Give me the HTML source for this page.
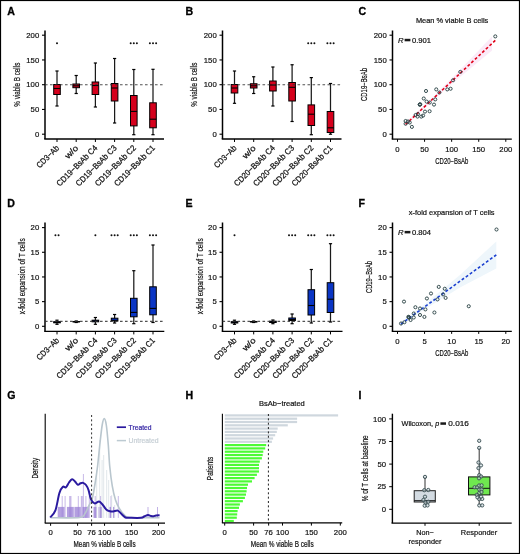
<!DOCTYPE html><html><head><meta charset="utf-8"><style>html,body{margin:0;padding:0;background:#fff;}svg{display:block;will-change:transform;}</style></head><body><svg width="520" height="554" viewBox="0 0 520 554" font-family='"Liberation Sans", sans-serif'>
<rect x="0" y="0" width="520" height="554" fill="#fff"/>
<text x="7.2" y="14.9" font-size="10.6" fill="#000" font-weight="bold" stroke="#000" stroke-width="0.3">A</text>
<text x="185.6" y="14.9" font-size="10.6" fill="#000" font-weight="bold" stroke="#000" stroke-width="0.3">B</text>
<text x="358.4" y="14.9" font-size="10.6" fill="#000" font-weight="bold" stroke="#000" stroke-width="0.3">C</text>
<text x="7.2" y="207.4" font-size="10.6" fill="#000" font-weight="bold" stroke="#000" stroke-width="0.3">D</text>
<text x="185.6" y="207.4" font-size="10.6" fill="#000" font-weight="bold" stroke="#000" stroke-width="0.3">E</text>
<text x="358.4" y="207.4" font-size="10.6" fill="#000" font-weight="bold" stroke="#000" stroke-width="0.3">F</text>
<text x="7.2" y="398.8" font-size="10.6" fill="#000" font-weight="bold" stroke="#000" stroke-width="0.3">G</text>
<text x="185.6" y="398.8" font-size="10.6" fill="#000" font-weight="bold" stroke="#000" stroke-width="0.3">H</text>
<text x="358.4" y="398.8" font-size="10.6" fill="#000" font-weight="bold" stroke="#000" stroke-width="0.3">I</text>
<line x1="45" y1="30.5" x2="45" y2="139" stroke="#000" stroke-width="1.5"/>
<line x1="44.25" y1="139" x2="164" y2="139" stroke="#000" stroke-width="1.3"/>
<line x1="42" y1="134.2" x2="45" y2="134.2" stroke="#000" stroke-width="1.1"/>
<text x="39.2" y="136.89999999999998" font-size="8" fill="#111" text-anchor="end" textLength="4.3" lengthAdjust="spacingAndGlyphs" stroke="#111" stroke-width="0.2">0</text>
<line x1="42" y1="109.44999999999999" x2="45" y2="109.44999999999999" stroke="#000" stroke-width="1.1"/>
<text x="39.2" y="112.14999999999999" font-size="8" fill="#111" text-anchor="end" textLength="8.6" lengthAdjust="spacingAndGlyphs" stroke="#111" stroke-width="0.2">50</text>
<line x1="42" y1="84.69999999999999" x2="45" y2="84.69999999999999" stroke="#000" stroke-width="1.1"/>
<text x="39.2" y="87.39999999999999" font-size="8" fill="#111" text-anchor="end" textLength="12.899999999999999" lengthAdjust="spacingAndGlyphs" stroke="#111" stroke-width="0.2">100</text>
<line x1="42" y1="59.94999999999999" x2="45" y2="59.94999999999999" stroke="#000" stroke-width="1.1"/>
<text x="39.2" y="62.64999999999999" font-size="8" fill="#111" text-anchor="end" textLength="12.899999999999999" lengthAdjust="spacingAndGlyphs" stroke="#111" stroke-width="0.2">150</text>
<line x1="42" y1="35.19999999999999" x2="45" y2="35.19999999999999" stroke="#000" stroke-width="1.1"/>
<text x="39.2" y="37.89999999999999" font-size="8" fill="#111" text-anchor="end" textLength="12.899999999999999" lengthAdjust="spacingAndGlyphs" stroke="#111" stroke-width="0.2">200</text>
<text x="19.7" y="84.7" font-size="8.4" fill="#111" text-anchor="middle" textLength="44" lengthAdjust="spacingAndGlyphs" transform="rotate(-90 19.7 84.7)" stroke="#111" stroke-width="0.2">% viable B cells</text>
<line x1="57" y1="71" x2="57" y2="106" stroke="#1a1a1a" stroke-width="1.25"/>
<line x1="55.4" y1="71" x2="58.6" y2="71" stroke="#000" stroke-width="1.2"/>
<line x1="55.4" y1="106" x2="58.6" y2="106" stroke="#000" stroke-width="1.2"/>
<rect x="53.7" y="84.5" width="6.6" height="10" fill="#d5001c" stroke="#000" stroke-width="1"/>
<line x1="53.7" y1="88.5" x2="60.3" y2="88.5" stroke="#000" stroke-width="1.1"/>
<line x1="57" y1="139" x2="57" y2="142" stroke="#000" stroke-width="1"/>
<text x="59.6" y="148.6" font-size="8.3" fill="#111" text-anchor="end" textLength="28" lengthAdjust="spacingAndGlyphs" transform="rotate(-45 59.6 148.6)" stroke="#111" stroke-width="0.25">CD3−Ab</text>
<line x1="76.2" y1="75.5" x2="76.2" y2="93.5" stroke="#1a1a1a" stroke-width="1.25"/>
<line x1="74.60000000000001" y1="75.5" x2="77.8" y2="75.5" stroke="#000" stroke-width="1.2"/>
<line x1="74.60000000000001" y1="93.5" x2="77.8" y2="93.5" stroke="#000" stroke-width="1.2"/>
<rect x="72.9" y="84.0" width="6.6" height="3.700000000000003" fill="#d5001c" stroke="#000" stroke-width="1"/>
<line x1="72.9" y1="85.8" x2="79.5" y2="85.8" stroke="#000" stroke-width="1.1"/>
<line x1="76.2" y1="139" x2="76.2" y2="142" stroke="#000" stroke-width="1"/>
<text x="78.8" y="148.6" font-size="8.3" fill="#111" text-anchor="end" textLength="15" lengthAdjust="spacingAndGlyphs" transform="rotate(-45 78.8 148.6)" stroke="#111" stroke-width="0.25">w/o</text>
<line x1="95.4" y1="63" x2="95.4" y2="107" stroke="#1a1a1a" stroke-width="1.25"/>
<line x1="93.80000000000001" y1="63" x2="97.0" y2="63" stroke="#000" stroke-width="1.2"/>
<line x1="93.80000000000001" y1="107" x2="97.0" y2="107" stroke="#000" stroke-width="1.2"/>
<rect x="92.10000000000001" y="82.0" width="6.6" height="12.5" fill="#d5001c" stroke="#000" stroke-width="1"/>
<line x1="92.10000000000001" y1="85.5" x2="98.7" y2="85.5" stroke="#000" stroke-width="1.1"/>
<line x1="95.4" y1="139" x2="95.4" y2="142" stroke="#000" stroke-width="1"/>
<text x="98.0" y="148.6" font-size="8.3" fill="#111" text-anchor="end" textLength="54" lengthAdjust="spacingAndGlyphs" transform="rotate(-45 98.0 148.6)" stroke="#111" stroke-width="0.25">CD19−BsAb C4</text>
<line x1="114.6" y1="58.5" x2="114.6" y2="123" stroke="#1a1a1a" stroke-width="1.25"/>
<line x1="113.0" y1="58.5" x2="116.19999999999999" y2="58.5" stroke="#000" stroke-width="1.2"/>
<line x1="113.0" y1="123" x2="116.19999999999999" y2="123" stroke="#000" stroke-width="1.2"/>
<rect x="111.3" y="83.5" width="6.6" height="17.5" fill="#d5001c" stroke="#000" stroke-width="1"/>
<line x1="111.3" y1="88" x2="117.89999999999999" y2="88" stroke="#000" stroke-width="1.1"/>
<line x1="114.6" y1="139" x2="114.6" y2="142" stroke="#000" stroke-width="1"/>
<text x="117.19999999999999" y="148.6" font-size="8.3" fill="#111" text-anchor="end" textLength="54" lengthAdjust="spacingAndGlyphs" transform="rotate(-45 117.19999999999999 148.6)" stroke="#111" stroke-width="0.25">CD19−BsAb C3</text>
<line x1="133.8" y1="69.5" x2="133.8" y2="134.7" stroke="#1a1a1a" stroke-width="1.25"/>
<line x1="132.20000000000002" y1="69.5" x2="135.4" y2="69.5" stroke="#000" stroke-width="1.2"/>
<line x1="132.20000000000002" y1="134.7" x2="135.4" y2="134.7" stroke="#000" stroke-width="1.2"/>
<rect x="130.5" y="95.5" width="6.6" height="30.400000000000006" fill="#d5001c" stroke="#000" stroke-width="1"/>
<line x1="130.5" y1="111.4" x2="137.10000000000002" y2="111.4" stroke="#000" stroke-width="1.1"/>
<line x1="133.8" y1="139" x2="133.8" y2="142" stroke="#000" stroke-width="1"/>
<text x="136.4" y="148.6" font-size="8.3" fill="#111" text-anchor="end" textLength="54" lengthAdjust="spacingAndGlyphs" transform="rotate(-45 136.4 148.6)" stroke="#111" stroke-width="0.25">CD19−BsAb C2</text>
<line x1="153" y1="69.3" x2="153" y2="134.7" stroke="#1a1a1a" stroke-width="1.25"/>
<line x1="151.4" y1="69.3" x2="154.6" y2="69.3" stroke="#000" stroke-width="1.2"/>
<line x1="151.4" y1="134.7" x2="154.6" y2="134.7" stroke="#000" stroke-width="1.2"/>
<rect x="149.7" y="102.8" width="6.6" height="25.000000000000014" fill="#d5001c" stroke="#000" stroke-width="1"/>
<line x1="149.7" y1="119.2" x2="156.3" y2="119.2" stroke="#000" stroke-width="1.1"/>
<line x1="153" y1="139" x2="153" y2="142" stroke="#000" stroke-width="1"/>
<text x="155.6" y="148.6" font-size="8.3" fill="#111" text-anchor="end" textLength="54" lengthAdjust="spacingAndGlyphs" transform="rotate(-45 155.6 148.6)" stroke="#111" stroke-width="0.25">CD19−BsAb C1</text>
<line x1="45" y1="84.7" x2="164" y2="84.7" stroke="#333" stroke-width="1.1" stroke-dasharray="2.6,2.4" opacity="0.85"/>
<circle cx="57.0" cy="43.2" r="1.0" fill="#111"/>
<circle cx="130.70000000000002" cy="43.2" r="1.0" fill="#111"/>
<circle cx="133.8" cy="43.2" r="1.0" fill="#111"/>
<circle cx="136.9" cy="43.2" r="1.0" fill="#111"/>
<circle cx="149.9" cy="43.2" r="1.0" fill="#111"/>
<circle cx="153.0" cy="43.2" r="1.0" fill="#111"/>
<circle cx="156.1" cy="43.2" r="1.0" fill="#111"/>
<line x1="222.5" y1="30.5" x2="222.5" y2="139" stroke="#000" stroke-width="1.5"/>
<line x1="221.75" y1="139" x2="341.5" y2="139" stroke="#000" stroke-width="1.3"/>
<line x1="219.5" y1="134.2" x2="222.5" y2="134.2" stroke="#000" stroke-width="1.1"/>
<text x="216.7" y="136.89999999999998" font-size="8" fill="#111" text-anchor="end" textLength="4.3" lengthAdjust="spacingAndGlyphs" stroke="#111" stroke-width="0.2">0</text>
<line x1="219.5" y1="109.44999999999999" x2="222.5" y2="109.44999999999999" stroke="#000" stroke-width="1.1"/>
<text x="216.7" y="112.14999999999999" font-size="8" fill="#111" text-anchor="end" textLength="8.6" lengthAdjust="spacingAndGlyphs" stroke="#111" stroke-width="0.2">50</text>
<line x1="219.5" y1="84.69999999999999" x2="222.5" y2="84.69999999999999" stroke="#000" stroke-width="1.1"/>
<text x="216.7" y="87.39999999999999" font-size="8" fill="#111" text-anchor="end" textLength="12.899999999999999" lengthAdjust="spacingAndGlyphs" stroke="#111" stroke-width="0.2">100</text>
<line x1="219.5" y1="59.94999999999999" x2="222.5" y2="59.94999999999999" stroke="#000" stroke-width="1.1"/>
<text x="216.7" y="62.64999999999999" font-size="8" fill="#111" text-anchor="end" textLength="12.899999999999999" lengthAdjust="spacingAndGlyphs" stroke="#111" stroke-width="0.2">150</text>
<line x1="219.5" y1="35.19999999999999" x2="222.5" y2="35.19999999999999" stroke="#000" stroke-width="1.1"/>
<text x="216.7" y="37.89999999999999" font-size="8" fill="#111" text-anchor="end" textLength="12.899999999999999" lengthAdjust="spacingAndGlyphs" stroke="#111" stroke-width="0.2">200</text>
<text x="197.2" y="84.7" font-size="8.4" fill="#111" text-anchor="middle" textLength="44" lengthAdjust="spacingAndGlyphs" transform="rotate(-90 197.2 84.7)" stroke="#111" stroke-width="0.2">% viable B cells</text>
<line x1="234.5" y1="71" x2="234.5" y2="103.3" stroke="#1a1a1a" stroke-width="1.25"/>
<line x1="232.9" y1="71" x2="236.1" y2="71" stroke="#000" stroke-width="1.2"/>
<line x1="232.9" y1="103.3" x2="236.1" y2="103.3" stroke="#000" stroke-width="1.2"/>
<rect x="231.2" y="84.5" width="6.6" height="8.5" fill="#d5001c" stroke="#000" stroke-width="1"/>
<line x1="231.2" y1="88" x2="237.8" y2="88" stroke="#000" stroke-width="1.1"/>
<line x1="234.5" y1="139" x2="234.5" y2="142" stroke="#000" stroke-width="1"/>
<text x="237.1" y="148.6" font-size="8.3" fill="#111" text-anchor="end" textLength="28" lengthAdjust="spacingAndGlyphs" transform="rotate(-45 237.1 148.6)" stroke="#111" stroke-width="0.25">CD3−Ab</text>
<line x1="253.7" y1="76.75" x2="253.7" y2="93.5" stroke="#1a1a1a" stroke-width="1.25"/>
<line x1="252.1" y1="76.75" x2="255.29999999999998" y2="76.75" stroke="#000" stroke-width="1.2"/>
<line x1="252.1" y1="93.5" x2="255.29999999999998" y2="93.5" stroke="#000" stroke-width="1.2"/>
<rect x="250.39999999999998" y="83.75" width="6.6" height="4.25" fill="#d5001c" stroke="#000" stroke-width="1"/>
<line x1="250.39999999999998" y1="85.8" x2="257.0" y2="85.8" stroke="#000" stroke-width="1.1"/>
<line x1="253.7" y1="139" x2="253.7" y2="142" stroke="#000" stroke-width="1"/>
<text x="256.3" y="148.6" font-size="8.3" fill="#111" text-anchor="end" textLength="15" lengthAdjust="spacingAndGlyphs" transform="rotate(-45 256.3 148.6)" stroke="#111" stroke-width="0.25">w/o</text>
<line x1="272.9" y1="67" x2="272.9" y2="106" stroke="#1a1a1a" stroke-width="1.25"/>
<line x1="271.29999999999995" y1="67" x2="274.5" y2="67" stroke="#000" stroke-width="1.2"/>
<line x1="271.29999999999995" y1="106" x2="274.5" y2="106" stroke="#000" stroke-width="1.2"/>
<rect x="269.59999999999997" y="81.0" width="6.6" height="10.0" fill="#d5001c" stroke="#000" stroke-width="1"/>
<line x1="269.59999999999997" y1="85" x2="276.2" y2="85" stroke="#000" stroke-width="1.1"/>
<line x1="272.9" y1="139" x2="272.9" y2="142" stroke="#000" stroke-width="1"/>
<text x="275.5" y="148.6" font-size="8.3" fill="#111" text-anchor="end" textLength="54" lengthAdjust="spacingAndGlyphs" transform="rotate(-45 275.5 148.6)" stroke="#111" stroke-width="0.25">CD20−BsAb C4</text>
<line x1="292.1" y1="64.75" x2="292.1" y2="121.5" stroke="#1a1a1a" stroke-width="1.25"/>
<line x1="290.5" y1="64.75" x2="293.70000000000005" y2="64.75" stroke="#000" stroke-width="1.2"/>
<line x1="290.5" y1="121.5" x2="293.70000000000005" y2="121.5" stroke="#000" stroke-width="1.2"/>
<rect x="288.8" y="82.5" width="6.6" height="18.5" fill="#d5001c" stroke="#000" stroke-width="1"/>
<line x1="288.8" y1="87.3" x2="295.40000000000003" y2="87.3" stroke="#000" stroke-width="1.1"/>
<line x1="292.1" y1="139" x2="292.1" y2="142" stroke="#000" stroke-width="1"/>
<text x="294.70000000000005" y="148.6" font-size="8.3" fill="#111" text-anchor="end" textLength="54" lengthAdjust="spacingAndGlyphs" transform="rotate(-45 294.70000000000005 148.6)" stroke="#111" stroke-width="0.25">CD20−BsAb C3</text>
<line x1="311.3" y1="77.6" x2="311.3" y2="134.7" stroke="#1a1a1a" stroke-width="1.25"/>
<line x1="309.7" y1="77.6" x2="312.90000000000003" y2="77.6" stroke="#000" stroke-width="1.2"/>
<line x1="309.7" y1="134.7" x2="312.90000000000003" y2="134.7" stroke="#000" stroke-width="1.2"/>
<rect x="308.0" y="104.9" width="6.6" height="20.599999999999994" fill="#d5001c" stroke="#000" stroke-width="1"/>
<line x1="308.0" y1="114.2" x2="314.6" y2="114.2" stroke="#000" stroke-width="1.1"/>
<line x1="311.3" y1="139" x2="311.3" y2="142" stroke="#000" stroke-width="1"/>
<text x="313.90000000000003" y="148.6" font-size="8.3" fill="#111" text-anchor="end" textLength="54" lengthAdjust="spacingAndGlyphs" transform="rotate(-45 313.90000000000003 148.6)" stroke="#111" stroke-width="0.25">CD20−BsAb C2</text>
<line x1="330.5" y1="83.5" x2="330.5" y2="134.2" stroke="#1a1a1a" stroke-width="1.25"/>
<line x1="328.9" y1="83.5" x2="332.1" y2="83.5" stroke="#000" stroke-width="1.2"/>
<line x1="328.9" y1="134.2" x2="332.1" y2="134.2" stroke="#000" stroke-width="1.2"/>
<rect x="327.2" y="111.5" width="6.6" height="21" fill="#d5001c" stroke="#000" stroke-width="1"/>
<line x1="327.2" y1="127.8" x2="333.8" y2="127.8" stroke="#000" stroke-width="1.1"/>
<line x1="330.5" y1="139" x2="330.5" y2="142" stroke="#000" stroke-width="1"/>
<text x="333.1" y="148.6" font-size="8.3" fill="#111" text-anchor="end" textLength="54" lengthAdjust="spacingAndGlyphs" transform="rotate(-45 333.1 148.6)" stroke="#111" stroke-width="0.25">CD20−BsAb C1</text>
<line x1="222.5" y1="84.7" x2="341.5" y2="84.7" stroke="#333" stroke-width="1.1" stroke-dasharray="2.6,2.4" opacity="0.85"/>
<circle cx="308.2" cy="43.2" r="1.0" fill="#111"/>
<circle cx="311.3" cy="43.2" r="1.0" fill="#111"/>
<circle cx="314.40000000000003" cy="43.2" r="1.0" fill="#111"/>
<circle cx="327.4" cy="43.2" r="1.0" fill="#111"/>
<circle cx="330.5" cy="43.2" r="1.0" fill="#111"/>
<circle cx="333.6" cy="43.2" r="1.0" fill="#111"/>
<line x1="45" y1="222.5" x2="45" y2="331.4" stroke="#000" stroke-width="1.5"/>
<line x1="44.25" y1="331.4" x2="164.3" y2="331.4" stroke="#000" stroke-width="1.3"/>
<line x1="42" y1="326.3" x2="45" y2="326.3" stroke="#000" stroke-width="1.1"/>
<text x="39.2" y="329.0" font-size="8" fill="#111" text-anchor="end" textLength="4.3" lengthAdjust="spacingAndGlyphs" stroke="#111" stroke-width="0.2">0</text>
<line x1="42" y1="301.625" x2="45" y2="301.625" stroke="#000" stroke-width="1.1"/>
<text x="39.2" y="304.325" font-size="8" fill="#111" text-anchor="end" textLength="4.3" lengthAdjust="spacingAndGlyphs" stroke="#111" stroke-width="0.2">5</text>
<line x1="42" y1="276.95000000000005" x2="45" y2="276.95000000000005" stroke="#000" stroke-width="1.1"/>
<text x="39.2" y="279.65000000000003" font-size="8" fill="#111" text-anchor="end" textLength="8.6" lengthAdjust="spacingAndGlyphs" stroke="#111" stroke-width="0.2">10</text>
<line x1="42" y1="252.27500000000003" x2="45" y2="252.27500000000003" stroke="#000" stroke-width="1.1"/>
<text x="39.2" y="254.97500000000002" font-size="8" fill="#111" text-anchor="end" textLength="8.6" lengthAdjust="spacingAndGlyphs" stroke="#111" stroke-width="0.2">15</text>
<line x1="42" y1="227.60000000000002" x2="45" y2="227.60000000000002" stroke="#000" stroke-width="1.1"/>
<text x="39.2" y="230.3" font-size="8" fill="#111" text-anchor="end" textLength="8.6" lengthAdjust="spacingAndGlyphs" stroke="#111" stroke-width="0.2">20</text>
<text x="25.2" y="276.3" font-size="8.4" fill="#111" text-anchor="middle" textLength="76" lengthAdjust="spacingAndGlyphs" transform="rotate(-90 25.2 276.3)" stroke="#111" stroke-width="0.2">x-fold expansion of T cells</text>
<line x1="57" y1="320.2" x2="57" y2="324.3" stroke="#1a1a1a" stroke-width="1.25"/>
<line x1="55.4" y1="320.2" x2="58.6" y2="320.2" stroke="#000" stroke-width="1.2"/>
<line x1="55.4" y1="324.3" x2="58.6" y2="324.3" stroke="#000" stroke-width="1.2"/>
<rect x="53.7" y="321.7" width="6.6" height="1.1000000000000227" fill="#0a35c4" stroke="#000" stroke-width="1"/>
<line x1="53.7" y1="322.3" x2="60.3" y2="322.3" stroke="#000" stroke-width="1.1"/>
<line x1="57" y1="331.4" x2="57" y2="334.4" stroke="#000" stroke-width="1"/>
<text x="59.6" y="341.0" font-size="8.3" fill="#111" text-anchor="end" textLength="28" lengthAdjust="spacingAndGlyphs" transform="rotate(-45 59.6 341.0)" stroke="#111" stroke-width="0.25">CD3−Ab</text>
<line x1="76.2" y1="321" x2="76.2" y2="322.5" stroke="#1a1a1a" stroke-width="1.25"/>
<line x1="74.60000000000001" y1="321" x2="77.8" y2="321" stroke="#000" stroke-width="1.2"/>
<line x1="74.60000000000001" y1="322.5" x2="77.8" y2="322.5" stroke="#000" stroke-width="1.2"/>
<rect x="72.9" y="321.5" width="6.6" height="0.39999999999997726" fill="#0a35c4" stroke="#000" stroke-width="1"/>
<line x1="72.9" y1="321.7" x2="79.5" y2="321.7" stroke="#000" stroke-width="1.1"/>
<line x1="76.2" y1="331.4" x2="76.2" y2="334.4" stroke="#000" stroke-width="1"/>
<text x="78.8" y="341.0" font-size="8.3" fill="#111" text-anchor="end" textLength="15" lengthAdjust="spacingAndGlyphs" transform="rotate(-45 78.8 341.0)" stroke="#111" stroke-width="0.25">w/o</text>
<line x1="95.4" y1="317.5" x2="95.4" y2="324.3" stroke="#1a1a1a" stroke-width="1.25"/>
<line x1="93.80000000000001" y1="317.5" x2="97.0" y2="317.5" stroke="#000" stroke-width="1.2"/>
<line x1="93.80000000000001" y1="324.3" x2="97.0" y2="324.3" stroke="#000" stroke-width="1.2"/>
<rect x="92.10000000000001" y="320.2" width="6.6" height="1.6000000000000227" fill="#0a35c4" stroke="#000" stroke-width="1"/>
<line x1="92.10000000000001" y1="321" x2="98.7" y2="321" stroke="#000" stroke-width="1.1"/>
<line x1="95.4" y1="331.4" x2="95.4" y2="334.4" stroke="#000" stroke-width="1"/>
<text x="98.0" y="341.0" font-size="8.3" fill="#111" text-anchor="end" textLength="54" lengthAdjust="spacingAndGlyphs" transform="rotate(-45 98.0 341.0)" stroke="#111" stroke-width="0.25">CD19−BsAb C4</text>
<line x1="114.6" y1="314.5" x2="114.6" y2="323" stroke="#1a1a1a" stroke-width="1.25"/>
<line x1="113.0" y1="314.5" x2="116.19999999999999" y2="314.5" stroke="#000" stroke-width="1.2"/>
<line x1="113.0" y1="323" x2="116.19999999999999" y2="323" stroke="#000" stroke-width="1.2"/>
<rect x="111.3" y="318.2" width="6.6" height="2.8000000000000114" fill="#0a35c4" stroke="#000" stroke-width="1"/>
<line x1="111.3" y1="320.3" x2="117.89999999999999" y2="320.3" stroke="#000" stroke-width="1.1"/>
<line x1="114.6" y1="331.4" x2="114.6" y2="334.4" stroke="#000" stroke-width="1"/>
<text x="117.19999999999999" y="341.0" font-size="8.3" fill="#111" text-anchor="end" textLength="54" lengthAdjust="spacingAndGlyphs" transform="rotate(-45 117.19999999999999 341.0)" stroke="#111" stroke-width="0.25">CD19−BsAb C3</text>
<line x1="133.8" y1="270.7" x2="133.8" y2="323.7" stroke="#1a1a1a" stroke-width="1.25"/>
<line x1="132.20000000000002" y1="270.7" x2="135.4" y2="270.7" stroke="#000" stroke-width="1.2"/>
<line x1="132.20000000000002" y1="323.7" x2="135.4" y2="323.7" stroke="#000" stroke-width="1.2"/>
<rect x="130.5" y="298.3" width="6.6" height="18.5" fill="#0a35c4" stroke="#000" stroke-width="1"/>
<line x1="130.5" y1="312.4" x2="137.10000000000002" y2="312.4" stroke="#000" stroke-width="1.1"/>
<line x1="133.8" y1="331.4" x2="133.8" y2="334.4" stroke="#000" stroke-width="1"/>
<text x="136.4" y="341.0" font-size="8.3" fill="#111" text-anchor="end" textLength="54" lengthAdjust="spacingAndGlyphs" transform="rotate(-45 136.4 341.0)" stroke="#111" stroke-width="0.25">CD19−BsAb C2</text>
<line x1="153" y1="245" x2="153" y2="322.5" stroke="#1a1a1a" stroke-width="1.25"/>
<line x1="151.4" y1="245" x2="154.6" y2="245" stroke="#000" stroke-width="1.2"/>
<line x1="151.4" y1="322.5" x2="154.6" y2="322.5" stroke="#000" stroke-width="1.2"/>
<rect x="149.7" y="286.8" width="6.6" height="28.0" fill="#0a35c4" stroke="#000" stroke-width="1"/>
<line x1="149.7" y1="308.4" x2="156.3" y2="308.4" stroke="#000" stroke-width="1.1"/>
<line x1="153" y1="331.4" x2="153" y2="334.4" stroke="#000" stroke-width="1"/>
<text x="155.6" y="341.0" font-size="8.3" fill="#111" text-anchor="end" textLength="54" lengthAdjust="spacingAndGlyphs" transform="rotate(-45 155.6 341.0)" stroke="#111" stroke-width="0.25">CD19−BsAb C1</text>
<line x1="45" y1="321.4" x2="164.3" y2="321.4" stroke="#333" stroke-width="1.1" stroke-dasharray="2.6,2.4" opacity="0.85"/>
<circle cx="55.45" cy="235.2" r="1.0" fill="#111"/>
<circle cx="58.55" cy="235.2" r="1.0" fill="#111"/>
<circle cx="95.4" cy="235.2" r="1.0" fill="#111"/>
<circle cx="111.5" cy="235.2" r="1.0" fill="#111"/>
<circle cx="114.6" cy="235.2" r="1.0" fill="#111"/>
<circle cx="117.69999999999999" cy="235.2" r="1.0" fill="#111"/>
<circle cx="130.70000000000002" cy="235.2" r="1.0" fill="#111"/>
<circle cx="133.8" cy="235.2" r="1.0" fill="#111"/>
<circle cx="136.9" cy="235.2" r="1.0" fill="#111"/>
<circle cx="149.9" cy="235.2" r="1.0" fill="#111"/>
<circle cx="153.0" cy="235.2" r="1.0" fill="#111"/>
<circle cx="156.1" cy="235.2" r="1.0" fill="#111"/>
<line x1="222.5" y1="222.5" x2="222.5" y2="331.4" stroke="#000" stroke-width="1.5"/>
<line x1="221.75" y1="331.4" x2="342.5" y2="331.4" stroke="#000" stroke-width="1.3"/>
<line x1="219.5" y1="326.3" x2="222.5" y2="326.3" stroke="#000" stroke-width="1.1"/>
<text x="216.7" y="329.0" font-size="8" fill="#111" text-anchor="end" textLength="4.3" lengthAdjust="spacingAndGlyphs" stroke="#111" stroke-width="0.2">0</text>
<line x1="219.5" y1="301.625" x2="222.5" y2="301.625" stroke="#000" stroke-width="1.1"/>
<text x="216.7" y="304.325" font-size="8" fill="#111" text-anchor="end" textLength="4.3" lengthAdjust="spacingAndGlyphs" stroke="#111" stroke-width="0.2">5</text>
<line x1="219.5" y1="276.95000000000005" x2="222.5" y2="276.95000000000005" stroke="#000" stroke-width="1.1"/>
<text x="216.7" y="279.65000000000003" font-size="8" fill="#111" text-anchor="end" textLength="8.6" lengthAdjust="spacingAndGlyphs" stroke="#111" stroke-width="0.2">10</text>
<line x1="219.5" y1="252.27500000000003" x2="222.5" y2="252.27500000000003" stroke="#000" stroke-width="1.1"/>
<text x="216.7" y="254.97500000000002" font-size="8" fill="#111" text-anchor="end" textLength="8.6" lengthAdjust="spacingAndGlyphs" stroke="#111" stroke-width="0.2">15</text>
<line x1="219.5" y1="227.60000000000002" x2="222.5" y2="227.60000000000002" stroke="#000" stroke-width="1.1"/>
<text x="216.7" y="230.3" font-size="8" fill="#111" text-anchor="end" textLength="8.6" lengthAdjust="spacingAndGlyphs" stroke="#111" stroke-width="0.2">20</text>
<text x="202.7" y="276.3" font-size="8.4" fill="#111" text-anchor="middle" textLength="76" lengthAdjust="spacingAndGlyphs" transform="rotate(-90 202.7 276.3)" stroke="#111" stroke-width="0.2">x-fold expansion of T cells</text>
<line x1="234.5" y1="320.2" x2="234.5" y2="324.3" stroke="#1a1a1a" stroke-width="1.25"/>
<line x1="232.9" y1="320.2" x2="236.1" y2="320.2" stroke="#000" stroke-width="1.2"/>
<line x1="232.9" y1="324.3" x2="236.1" y2="324.3" stroke="#000" stroke-width="1.2"/>
<rect x="231.2" y="321.7" width="6.6" height="1.3000000000000114" fill="#0a35c4" stroke="#000" stroke-width="1"/>
<line x1="231.2" y1="322.3" x2="237.8" y2="322.3" stroke="#000" stroke-width="1.1"/>
<line x1="234.5" y1="331.4" x2="234.5" y2="334.4" stroke="#000" stroke-width="1"/>
<text x="237.1" y="341.0" font-size="8.3" fill="#111" text-anchor="end" textLength="28" lengthAdjust="spacingAndGlyphs" transform="rotate(-45 237.1 341.0)" stroke="#111" stroke-width="0.25">CD3−Ab</text>
<line x1="253.7" y1="321" x2="253.7" y2="322.5" stroke="#1a1a1a" stroke-width="1.25"/>
<line x1="252.1" y1="321" x2="255.29999999999998" y2="321" stroke="#000" stroke-width="1.2"/>
<line x1="252.1" y1="322.5" x2="255.29999999999998" y2="322.5" stroke="#000" stroke-width="1.2"/>
<rect x="250.39999999999998" y="321.5" width="6.6" height="0.5" fill="#0a35c4" stroke="#000" stroke-width="1"/>
<line x1="250.39999999999998" y1="321.7" x2="257.0" y2="321.7" stroke="#000" stroke-width="1.1"/>
<line x1="253.7" y1="331.4" x2="253.7" y2="334.4" stroke="#000" stroke-width="1"/>
<text x="256.3" y="341.0" font-size="8.3" fill="#111" text-anchor="end" textLength="15" lengthAdjust="spacingAndGlyphs" transform="rotate(-45 256.3 341.0)" stroke="#111" stroke-width="0.25">w/o</text>
<line x1="272.9" y1="320" x2="272.9" y2="323.7" stroke="#1a1a1a" stroke-width="1.25"/>
<line x1="271.29999999999995" y1="320" x2="274.5" y2="320" stroke="#000" stroke-width="1.2"/>
<line x1="271.29999999999995" y1="323.7" x2="274.5" y2="323.7" stroke="#000" stroke-width="1.2"/>
<rect x="269.59999999999997" y="321.2" width="6.6" height="1.3000000000000114" fill="#0a35c4" stroke="#000" stroke-width="1"/>
<line x1="269.59999999999997" y1="321.8" x2="276.2" y2="321.8" stroke="#000" stroke-width="1.1"/>
<line x1="272.9" y1="331.4" x2="272.9" y2="334.4" stroke="#000" stroke-width="1"/>
<text x="275.5" y="341.0" font-size="8.3" fill="#111" text-anchor="end" textLength="54" lengthAdjust="spacingAndGlyphs" transform="rotate(-45 275.5 341.0)" stroke="#111" stroke-width="0.25">CD20−BsAb C4</text>
<line x1="292.1" y1="314" x2="292.1" y2="323.7" stroke="#1a1a1a" stroke-width="1.25"/>
<line x1="290.5" y1="314" x2="293.70000000000005" y2="314" stroke="#000" stroke-width="1.2"/>
<line x1="290.5" y1="323.7" x2="293.70000000000005" y2="323.7" stroke="#000" stroke-width="1.2"/>
<rect x="288.8" y="318.0" width="6.6" height="2.5" fill="#0a35c4" stroke="#000" stroke-width="1"/>
<line x1="288.8" y1="319.5" x2="295.40000000000003" y2="319.5" stroke="#000" stroke-width="1.1"/>
<line x1="292.1" y1="331.4" x2="292.1" y2="334.4" stroke="#000" stroke-width="1"/>
<text x="294.70000000000005" y="341.0" font-size="8.3" fill="#111" text-anchor="end" textLength="54" lengthAdjust="spacingAndGlyphs" transform="rotate(-45 294.70000000000005 341.0)" stroke="#111" stroke-width="0.25">CD20−BsAb C3</text>
<line x1="311.3" y1="269.5" x2="311.3" y2="323" stroke="#1a1a1a" stroke-width="1.25"/>
<line x1="309.7" y1="269.5" x2="312.90000000000003" y2="269.5" stroke="#000" stroke-width="1.2"/>
<line x1="309.7" y1="323" x2="312.90000000000003" y2="323" stroke="#000" stroke-width="1.2"/>
<rect x="308.0" y="289.7" width="6.6" height="25.30000000000001" fill="#0a35c4" stroke="#000" stroke-width="1"/>
<line x1="308.0" y1="305.5" x2="314.6" y2="305.5" stroke="#000" stroke-width="1.1"/>
<line x1="311.3" y1="331.4" x2="311.3" y2="334.4" stroke="#000" stroke-width="1"/>
<text x="313.90000000000003" y="341.0" font-size="8.3" fill="#111" text-anchor="end" textLength="54" lengthAdjust="spacingAndGlyphs" transform="rotate(-45 313.90000000000003 341.0)" stroke="#111" stroke-width="0.25">CD20−BsAb C2</text>
<line x1="330.5" y1="243.7" x2="330.5" y2="322" stroke="#1a1a1a" stroke-width="1.25"/>
<line x1="328.9" y1="243.7" x2="332.1" y2="243.7" stroke="#000" stroke-width="1.2"/>
<line x1="328.9" y1="322" x2="332.1" y2="322" stroke="#000" stroke-width="1.2"/>
<rect x="327.2" y="282.7" width="6.6" height="29.80000000000001" fill="#0a35c4" stroke="#000" stroke-width="1"/>
<line x1="327.2" y1="299.2" x2="333.8" y2="299.2" stroke="#000" stroke-width="1.1"/>
<line x1="330.5" y1="331.4" x2="330.5" y2="334.4" stroke="#000" stroke-width="1"/>
<text x="333.1" y="341.0" font-size="8.3" fill="#111" text-anchor="end" textLength="54" lengthAdjust="spacingAndGlyphs" transform="rotate(-45 333.1 341.0)" stroke="#111" stroke-width="0.25">CD20−BsAb C1</text>
<line x1="222.5" y1="321.4" x2="342.5" y2="321.4" stroke="#333" stroke-width="1.1" stroke-dasharray="2.6,2.4" opacity="0.85"/>
<circle cx="234.5" cy="235.2" r="1.0" fill="#111"/>
<circle cx="289.0" cy="235.2" r="1.0" fill="#111"/>
<circle cx="292.1" cy="235.2" r="1.0" fill="#111"/>
<circle cx="295.20000000000005" cy="235.2" r="1.0" fill="#111"/>
<circle cx="308.2" cy="235.2" r="1.0" fill="#111"/>
<circle cx="311.3" cy="235.2" r="1.0" fill="#111"/>
<circle cx="314.40000000000003" cy="235.2" r="1.0" fill="#111"/>
<circle cx="327.4" cy="235.2" r="1.0" fill="#111"/>
<circle cx="330.5" cy="235.2" r="1.0" fill="#111"/>
<circle cx="333.6" cy="235.2" r="1.0" fill="#111"/>
<path d="M405.6,122.6 L430,100 L460,69.9 L492,36.4 L492,50.6 L460,76.9 L430,103 L405.6,126.2 Z" fill="#fbeaf8"/>
<line x1="405.6" y1="124.4" x2="495.9" y2="39.8" stroke="#e00018" stroke-width="1.6" stroke-dasharray="2.9,2.1"/>
<circle cx="426" cy="91" r="1.55" fill="none" stroke="#2c4547" stroke-width="0.95"/>
<circle cx="436.25" cy="89.4" r="1.55" fill="none" stroke="#2c4547" stroke-width="0.95"/>
<circle cx="439.4" cy="92.5" r="1.55" fill="none" stroke="#2c4547" stroke-width="0.95"/>
<circle cx="447.25" cy="89.4" r="1.55" fill="none" stroke="#2c4547" stroke-width="0.95"/>
<circle cx="450.6" cy="88.75" r="1.55" fill="none" stroke="#2c4547" stroke-width="0.95"/>
<circle cx="453.1" cy="80.25" r="1.55" fill="none" stroke="#2c4547" stroke-width="0.95"/>
<circle cx="423.75" cy="98.5" r="1.55" fill="none" stroke="#2c4547" stroke-width="0.95"/>
<circle cx="426.6" cy="101.6" r="1.55" fill="none" stroke="#2c4547" stroke-width="0.95"/>
<circle cx="429.75" cy="102.5" r="1.55" fill="none" stroke="#2c4547" stroke-width="0.95"/>
<circle cx="435.25" cy="99.4" r="1.55" fill="none" stroke="#2c4547" stroke-width="0.95"/>
<circle cx="434" cy="104.6" r="1.55" fill="none" stroke="#2c4547" stroke-width="0.95"/>
<circle cx="419.75" cy="104.6" r="1.55" fill="none" stroke="#2c4547" stroke-width="0.95"/>
<circle cx="419.75" cy="104.6" r="1.55" fill="none" stroke="#2c4547" stroke-width="0.95"/>
<circle cx="420.3" cy="104.3" r="1.55" fill="none" stroke="#2c4547" stroke-width="0.95"/>
<circle cx="425" cy="111.6" r="1.55" fill="none" stroke="#2c4547" stroke-width="0.95"/>
<circle cx="429.6" cy="111.25" r="1.55" fill="none" stroke="#2c4547" stroke-width="0.95"/>
<circle cx="415.6" cy="115" r="1.55" fill="none" stroke="#2c4547" stroke-width="0.95"/>
<circle cx="417.9" cy="114.1" r="1.55" fill="none" stroke="#2c4547" stroke-width="0.95"/>
<circle cx="417.5" cy="116.6" r="1.55" fill="none" stroke="#2c4547" stroke-width="0.95"/>
<circle cx="421.25" cy="116.6" r="1.55" fill="none" stroke="#2c4547" stroke-width="0.95"/>
<circle cx="423.1" cy="115.6" r="1.55" fill="none" stroke="#2c4547" stroke-width="0.95"/>
<circle cx="405.6" cy="121" r="1.55" fill="none" stroke="#2c4547" stroke-width="0.95"/>
<circle cx="405.6" cy="123.75" r="1.55" fill="none" stroke="#2c4547" stroke-width="0.95"/>
<circle cx="409.75" cy="122.5" r="1.55" fill="none" stroke="#2c4547" stroke-width="0.95"/>
<circle cx="411.9" cy="126.9" r="1.55" fill="none" stroke="#2c4547" stroke-width="0.95"/>
<circle cx="408" cy="121.5" r="1.55" fill="none" stroke="#2c4547" stroke-width="0.95"/>
<circle cx="460.3" cy="71.9" r="1.55" fill="none" stroke="#2c4547" stroke-width="0.95"/>
<circle cx="495.3" cy="36.4" r="1.55" fill="none" stroke="#2c4547" stroke-width="0.95"/>
<line x1="392.5" y1="30.5" x2="392.5" y2="139.2" stroke="#000" stroke-width="1.5"/>
<line x1="391.75" y1="139.2" x2="511.8" y2="139.2" stroke="#000" stroke-width="1.3"/>
<line x1="389.5" y1="134.2" x2="392.5" y2="134.2" stroke="#000" stroke-width="1.1"/>
<text x="386.7" y="136.89999999999998" font-size="8" fill="#111" text-anchor="end" textLength="4.3" lengthAdjust="spacingAndGlyphs" stroke="#111" stroke-width="0.2">0</text>
<line x1="389.5" y1="109.44999999999999" x2="392.5" y2="109.44999999999999" stroke="#000" stroke-width="1.1"/>
<text x="386.7" y="112.14999999999999" font-size="8" fill="#111" text-anchor="end" textLength="8.6" lengthAdjust="spacingAndGlyphs" stroke="#111" stroke-width="0.2">50</text>
<line x1="389.5" y1="84.69999999999999" x2="392.5" y2="84.69999999999999" stroke="#000" stroke-width="1.1"/>
<text x="386.7" y="87.39999999999999" font-size="8" fill="#111" text-anchor="end" textLength="12.899999999999999" lengthAdjust="spacingAndGlyphs" stroke="#111" stroke-width="0.2">100</text>
<line x1="389.5" y1="59.94999999999999" x2="392.5" y2="59.94999999999999" stroke="#000" stroke-width="1.1"/>
<text x="386.7" y="62.64999999999999" font-size="8" fill="#111" text-anchor="end" textLength="12.899999999999999" lengthAdjust="spacingAndGlyphs" stroke="#111" stroke-width="0.2">150</text>
<line x1="389.5" y1="35.19999999999999" x2="392.5" y2="35.19999999999999" stroke="#000" stroke-width="1.1"/>
<text x="386.7" y="37.89999999999999" font-size="8" fill="#111" text-anchor="end" textLength="12.899999999999999" lengthAdjust="spacingAndGlyphs" stroke="#111" stroke-width="0.2">200</text>
<line x1="397.5" y1="139.2" x2="397.5" y2="141.79999999999998" stroke="#000" stroke-width="1"/>
<text x="397.5" y="151.6" font-size="8" fill="#111" text-anchor="middle" textLength="4.3" lengthAdjust="spacingAndGlyphs" stroke="#111" stroke-width="0.2">0</text>
<line x1="424.575" y1="139.2" x2="424.575" y2="141.79999999999998" stroke="#000" stroke-width="1"/>
<text x="424.575" y="151.6" font-size="8" fill="#111" text-anchor="middle" textLength="8.6" lengthAdjust="spacingAndGlyphs" stroke="#111" stroke-width="0.2">50</text>
<line x1="451.65" y1="139.2" x2="451.65" y2="141.79999999999998" stroke="#000" stroke-width="1"/>
<text x="451.65" y="151.6" font-size="8" fill="#111" text-anchor="middle" textLength="12.899999999999999" lengthAdjust="spacingAndGlyphs" stroke="#111" stroke-width="0.2">100</text>
<line x1="478.725" y1="139.2" x2="478.725" y2="141.79999999999998" stroke="#000" stroke-width="1"/>
<text x="478.725" y="151.6" font-size="8" fill="#111" text-anchor="middle" textLength="12.899999999999999" lengthAdjust="spacingAndGlyphs" stroke="#111" stroke-width="0.2">150</text>
<line x1="505.8" y1="139.2" x2="505.8" y2="141.79999999999998" stroke="#000" stroke-width="1"/>
<text x="505.8" y="151.6" font-size="8" fill="#111" text-anchor="middle" textLength="12.899999999999999" lengthAdjust="spacingAndGlyphs" stroke="#111" stroke-width="0.2">200</text>
<text x="452.1" y="23.1" font-size="7.4" fill="#111" text-anchor="middle" textLength="72.4" lengthAdjust="spacingAndGlyphs" stroke="#111" stroke-width="0.2">Mean % viable B cells</text>
<text x="398.0" y="42.5" font-size="7.8" fill="#111" textLength="5.6" lengthAdjust="spacingAndGlyphs" font-style="italic" stroke="#111" stroke-width="0.2">R</text>
<rect x="404.6" y="38.80" width="5.8" height="2.5" fill="#1a1a1a"/>
<text x="412" y="42.5" font-size="7.8" fill="#111" textLength="19" lengthAdjust="spacingAndGlyphs" stroke="#111" stroke-width="0.2">0.901</text>
<text x="366.9" y="84.5" font-size="8.4" fill="#111" text-anchor="middle" textLength="33" lengthAdjust="spacingAndGlyphs" transform="rotate(-90 366.9 84.5)" stroke="#111" stroke-width="0.2">CD19−BsAb</text>
<text x="451.8" y="163.6" font-size="8.2" fill="#111" text-anchor="middle" textLength="33" lengthAdjust="spacingAndGlyphs" stroke="#111" stroke-width="0.2">CD20−BsAb</text>
<path d="M401,321.8 L424,304.8 L460,275 L496.3,241.4 L496.3,268.4 L460,287.4 L424,309.8 L401,326.2 Z" fill="#eef6fb"/>
<line x1="401" y1="324" x2="496.3" y2="254.9" stroke="#1a3fd0" stroke-width="1.6" stroke-dasharray="2.9,2.1"/>
<circle cx="438.75" cy="286.9" r="1.55" fill="none" stroke="#2c4547" stroke-width="0.95"/>
<circle cx="444.75" cy="288.75" r="1.55" fill="none" stroke="#2c4547" stroke-width="0.95"/>
<circle cx="431" cy="293.5" r="1.55" fill="none" stroke="#2c4547" stroke-width="0.95"/>
<circle cx="443.1" cy="294.4" r="1.55" fill="none" stroke="#2c4547" stroke-width="0.95"/>
<circle cx="445.6" cy="297.9" r="1.55" fill="none" stroke="#2c4547" stroke-width="0.95"/>
<circle cx="437.5" cy="299.4" r="1.55" fill="none" stroke="#2c4547" stroke-width="0.95"/>
<circle cx="426.9" cy="298.5" r="1.55" fill="none" stroke="#2c4547" stroke-width="0.95"/>
<circle cx="404" cy="301.6" r="1.55" fill="none" stroke="#2c4547" stroke-width="0.95"/>
<circle cx="415.4" cy="307.25" r="1.55" fill="none" stroke="#2c4547" stroke-width="0.95"/>
<circle cx="420" cy="308.5" r="1.55" fill="none" stroke="#2c4547" stroke-width="0.95"/>
<circle cx="425.4" cy="309.4" r="1.55" fill="none" stroke="#2c4547" stroke-width="0.95"/>
<circle cx="434.4" cy="312.5" r="1.55" fill="none" stroke="#2c4547" stroke-width="0.95"/>
<circle cx="413.75" cy="313.5" r="1.55" fill="none" stroke="#2c4547" stroke-width="0.95"/>
<circle cx="420" cy="315" r="1.55" fill="none" stroke="#2c4547" stroke-width="0.95"/>
<circle cx="424.4" cy="316.9" r="1.55" fill="none" stroke="#2c4547" stroke-width="0.95"/>
<circle cx="408.75" cy="317.25" r="1.55" fill="none" stroke="#2c4547" stroke-width="0.95"/>
<circle cx="409.2" cy="317.6" r="1.55" fill="none" stroke="#2c4547" stroke-width="0.95"/>
<circle cx="408.4" cy="316.8" r="1.55" fill="none" stroke="#2c4547" stroke-width="0.95"/>
<circle cx="413.75" cy="317.5" r="1.55" fill="none" stroke="#2c4547" stroke-width="0.95"/>
<circle cx="410.6" cy="320" r="1.55" fill="none" stroke="#2c4547" stroke-width="0.95"/>
<circle cx="404.4" cy="322.25" r="1.55" fill="none" stroke="#2c4547" stroke-width="0.95"/>
<circle cx="401" cy="323.5" r="1.55" fill="none" stroke="#2c4547" stroke-width="0.95"/>
<circle cx="468.75" cy="306.25" r="1.55" fill="none" stroke="#2c4547" stroke-width="0.95"/>
<circle cx="496.5" cy="229.5" r="1.55" fill="none" stroke="#2c4547" stroke-width="0.95"/>
<line x1="392.5" y1="222.5" x2="392.5" y2="331.3" stroke="#000" stroke-width="1.5"/>
<line x1="391.75" y1="331.3" x2="511.8" y2="331.3" stroke="#000" stroke-width="1.3"/>
<line x1="389.5" y1="326.3" x2="392.5" y2="326.3" stroke="#000" stroke-width="1.1"/>
<text x="386.7" y="329.0" font-size="8" fill="#111" text-anchor="end" textLength="4.3" lengthAdjust="spacingAndGlyphs" stroke="#111" stroke-width="0.2">0</text>
<line x1="389.5" y1="301.625" x2="392.5" y2="301.625" stroke="#000" stroke-width="1.1"/>
<text x="386.7" y="304.325" font-size="8" fill="#111" text-anchor="end" textLength="4.3" lengthAdjust="spacingAndGlyphs" stroke="#111" stroke-width="0.2">5</text>
<line x1="389.5" y1="276.95000000000005" x2="392.5" y2="276.95000000000005" stroke="#000" stroke-width="1.1"/>
<text x="386.7" y="279.65000000000003" font-size="8" fill="#111" text-anchor="end" textLength="8.6" lengthAdjust="spacingAndGlyphs" stroke="#111" stroke-width="0.2">10</text>
<line x1="389.5" y1="252.27500000000003" x2="392.5" y2="252.27500000000003" stroke="#000" stroke-width="1.1"/>
<text x="386.7" y="254.97500000000002" font-size="8" fill="#111" text-anchor="end" textLength="8.6" lengthAdjust="spacingAndGlyphs" stroke="#111" stroke-width="0.2">15</text>
<line x1="389.5" y1="227.60000000000002" x2="392.5" y2="227.60000000000002" stroke="#000" stroke-width="1.1"/>
<text x="386.7" y="230.3" font-size="8" fill="#111" text-anchor="end" textLength="8.6" lengthAdjust="spacingAndGlyphs" stroke="#111" stroke-width="0.2">20</text>
<line x1="397.5" y1="331.3" x2="397.5" y2="333.90000000000003" stroke="#000" stroke-width="1"/>
<text x="397.5" y="343.7" font-size="8" fill="#111" text-anchor="middle" textLength="4.3" lengthAdjust="spacingAndGlyphs" stroke="#111" stroke-width="0.2">0</text>
<line x1="424.575" y1="331.3" x2="424.575" y2="333.90000000000003" stroke="#000" stroke-width="1"/>
<text x="424.575" y="343.7" font-size="8" fill="#111" text-anchor="middle" textLength="4.3" lengthAdjust="spacingAndGlyphs" stroke="#111" stroke-width="0.2">5</text>
<line x1="451.65" y1="331.3" x2="451.65" y2="333.90000000000003" stroke="#000" stroke-width="1"/>
<text x="451.65" y="343.7" font-size="8" fill="#111" text-anchor="middle" textLength="8.6" lengthAdjust="spacingAndGlyphs" stroke="#111" stroke-width="0.2">10</text>
<line x1="478.725" y1="331.3" x2="478.725" y2="333.90000000000003" stroke="#000" stroke-width="1"/>
<text x="478.725" y="343.7" font-size="8" fill="#111" text-anchor="middle" textLength="8.6" lengthAdjust="spacingAndGlyphs" stroke="#111" stroke-width="0.2">15</text>
<line x1="505.8" y1="331.3" x2="505.8" y2="333.90000000000003" stroke="#000" stroke-width="1"/>
<text x="505.8" y="343.7" font-size="8" fill="#111" text-anchor="middle" textLength="8.6" lengthAdjust="spacingAndGlyphs" stroke="#111" stroke-width="0.2">20</text>
<text x="451.7" y="214.6" font-size="7.4" fill="#111" text-anchor="middle" textLength="85.8" lengthAdjust="spacingAndGlyphs" stroke="#111" stroke-width="0.2">x-fold expansion of T cells</text>
<text x="398.0" y="234.6" font-size="7.8" fill="#111" textLength="5.6" lengthAdjust="spacingAndGlyphs" font-style="italic" stroke="#111" stroke-width="0.2">R</text>
<rect x="404.6" y="230.90" width="5.8" height="2.5" fill="#1a1a1a"/>
<text x="412" y="234.6" font-size="7.8" fill="#111" textLength="19" lengthAdjust="spacingAndGlyphs" stroke="#111" stroke-width="0.2">0.804</text>
<text x="371.5" y="277" font-size="8.4" fill="#111" text-anchor="middle" textLength="32" lengthAdjust="spacingAndGlyphs" transform="rotate(-90 371.5 277)" stroke="#111" stroke-width="0.2">CD19−BsAb</text>
<text x="451.8" y="355.7" font-size="8.2" fill="#111" text-anchor="middle" textLength="33" lengthAdjust="spacingAndGlyphs" stroke="#111" stroke-width="0.2">CD20−BsAb</text>
<rect x="57.7" y="506.9" width="6.8999999999999915" height="11" fill="#9a7fd6" opacity="0.75"/>
<rect x="66.9" y="506.9" width="6.8999999999999915" height="11" fill="#9a7fd6" opacity="0.75"/>
<rect x="74.4" y="506.9" width="6.3999999999999915" height="11" fill="#9a7fd6" opacity="0.75"/>
<rect x="82.5" y="506.9" width="6.299999999999997" height="11" fill="#9a7fd6" opacity="0.75"/>
<rect x="93.5" y="506.9" width="3.5" height="11" fill="#9a7fd6" opacity="0.75"/>
<rect x="98.5" y="506.9" width="3.5" height="11" fill="#9a7fd6" opacity="0.75"/>
<rect x="109.5" y="506.9" width="1.5" height="11" fill="#9a7fd6" opacity="0.75"/>
<rect x="113" y="506.9" width="1.5" height="11" fill="#9a7fd6" opacity="0.75"/>
<rect x="61.7" y="496" width="1" height="21.9" fill="#9a7fd6" opacity="0.55"/>
<rect x="64.6" y="496" width="1" height="21.9" fill="#9a7fd6" opacity="0.55"/>
<rect x="69.14999999999999" y="496" width="2.3" height="21.9" fill="#9a7fd6" opacity="0.55"/>
<rect x="77.8" y="496" width="1" height="21.9" fill="#9a7fd6" opacity="0.55"/>
<rect x="80.85" y="496" width="1.9" height="21.9" fill="#9a7fd6" opacity="0.55"/>
<rect x="85.4" y="496" width="1" height="21.9" fill="#9a7fd6" opacity="0.55"/>
<rect x="88.8" y="496" width="1" height="21.9" fill="#9a7fd6" opacity="0.55"/>
<rect x="94.7" y="496" width="1" height="21.9" fill="#9a7fd6" opacity="0.55"/>
<rect x="100.1" y="496" width="1" height="21.9" fill="#9a7fd6" opacity="0.55"/>
<rect x="110.5" y="496" width="1" height="21.9" fill="#9a7fd6" opacity="0.55"/>
<rect x="117.8" y="496" width="1" height="21.9" fill="#9a7fd6" opacity="0.55"/>
<rect x="82.9" y="474" width="1" height="44" fill="#9a7fd6" opacity="0.55"/>
<rect x="147.5" y="507" width="1" height="11" fill="#9a7fd6" opacity="0.6"/>
<rect x="157.0" y="507" width="1" height="11" fill="#9a7fd6" opacity="0.6"/>
<rect x="96" y="470" width="1.2" height="47.89999999999998" fill="#d5dde3" opacity="0.6"/>
<rect x="99" y="440" width="1.2" height="77.89999999999998" fill="#d5dde3" opacity="0.6"/>
<rect x="101.5" y="460" width="1.2" height="57.89999999999998" fill="#d5dde3" opacity="0.6"/>
<rect x="103" y="455" width="1.2" height="62.89999999999998" fill="#d5dde3" opacity="0.6"/>
<rect x="106" y="470" width="1.2" height="47.89999999999998" fill="#d5dde3" opacity="0.6"/>
<rect x="108" y="480" width="1.2" height="37.89999999999998" fill="#d5dde3" opacity="0.6"/>
<rect x="111" y="495" width="1.2" height="22.899999999999977" fill="#d5dde3" opacity="0.6"/>
<rect x="114" y="505" width="1.2" height="12.899999999999977" fill="#d5dde3" opacity="0.6"/>
<path d="M50.60,517.70 C55.43,517.67 73.87,518.20 79.60,517.50 C85.33,516.80 83.47,515.45 85.00,513.50 C86.53,511.55 87.58,508.30 88.80,505.80 C90.02,503.30 91.27,502.13 92.30,498.50 C93.33,494.87 94.12,489.42 95.00,484.00 C95.88,478.58 96.77,472.83 97.60,466.00 C98.43,459.17 99.23,449.83 100.00,443.00 C100.77,436.17 101.50,429.07 102.20,425.00 C102.90,420.93 103.52,418.60 104.20,418.60 C104.88,418.60 105.62,420.60 106.30,425.00 C106.98,429.40 107.73,438.17 108.30,445.00 C108.87,451.83 109.03,459.13 109.70,466.00 C110.37,472.87 111.33,480.53 112.30,486.20 C113.27,491.87 114.33,496.30 115.50,500.00 C116.67,503.70 117.88,505.98 119.30,508.40 C120.72,510.82 122.22,512.98 124.00,514.50 C125.78,516.02 124.08,516.97 130.00,517.50 C135.92,518.03 154.58,517.67 159.50,517.70" fill="none" stroke="#b9c6ce" stroke-width="1.6"/>
<path d="M50.20,517.50 C51.07,516.32 53.87,514.48 55.40,510.40 C56.93,506.32 58.15,496.95 59.40,493.00 C60.65,489.05 61.83,487.62 62.90,486.70 C63.97,485.78 64.78,488.20 65.80,487.50 C66.82,486.80 67.95,483.88 69.00,482.50 C70.05,481.12 71.10,479.37 72.10,479.20 C73.10,479.03 74.03,480.57 75.00,481.50 C75.97,482.43 76.98,484.50 77.90,484.80 C78.82,485.10 79.63,483.62 80.50,483.30 C81.37,482.98 82.18,482.62 83.10,482.90 C84.02,483.18 85.10,483.82 86.00,485.00 C86.90,486.18 87.67,487.62 88.50,490.00 C89.33,492.38 89.98,497.07 91.00,499.30 C92.02,501.53 93.25,503.05 94.60,503.40 C95.95,503.75 97.78,501.22 99.10,501.40 C100.42,501.58 101.32,503.17 102.50,504.50 C103.68,505.83 104.95,508.27 106.20,509.40 C107.45,510.53 108.82,510.95 110.00,511.30 C111.18,511.65 112.00,511.62 113.30,511.50 C114.60,511.38 116.43,510.18 117.80,510.60 C119.17,511.02 120.23,512.85 121.50,514.00 C122.77,515.15 123.98,516.87 125.40,517.50 C126.82,518.13 127.40,517.75 130.00,517.80 C132.60,517.85 138.58,518.05 141.00,517.80 C143.42,517.55 143.33,516.77 144.50,516.30 C145.67,515.83 146.92,515.05 148.00,515.00 C149.08,514.95 150.08,515.78 151.00,516.00 C151.92,516.22 152.67,516.40 153.50,516.30 C154.33,516.20 154.98,515.58 156.00,515.40 C157.02,515.22 159.00,515.23 159.60,515.20" fill="none" stroke="#2a1a9f" stroke-width="2.0" stroke-linejoin="round"/>
<line x1="91.6" y1="415" x2="91.6" y2="523" stroke="#333" stroke-width="1" stroke-dasharray="2,2.35"/>
<line x1="45.2" y1="413.7" x2="45.2" y2="523.1" stroke="#000" stroke-width="1.1"/>
<line x1="44.7" y1="523.1" x2="165" y2="523.1" stroke="#000" stroke-width="1.1"/>
<line x1="50.6" y1="523.1" x2="50.6" y2="525.8" stroke="#000" stroke-width="1"/>
<text x="50.6" y="534.9" font-size="8" fill="#111" text-anchor="middle" textLength="4.3" lengthAdjust="spacingAndGlyphs" stroke="#111" stroke-width="0.2">0</text>
<line x1="77.575" y1="523.1" x2="77.575" y2="525.8" stroke="#000" stroke-width="1"/>
<text x="77.575" y="534.9" font-size="8" fill="#111" text-anchor="middle" textLength="8.6" lengthAdjust="spacingAndGlyphs" stroke="#111" stroke-width="0.2">50</text>
<line x1="91.602" y1="523.1" x2="91.602" y2="525.8" stroke="#000" stroke-width="1"/>
<text x="91.602" y="534.9" font-size="8" fill="#111" text-anchor="middle" textLength="8.6" lengthAdjust="spacingAndGlyphs" stroke="#111" stroke-width="0.2">76</text>
<line x1="104.55" y1="523.1" x2="104.55" y2="525.8" stroke="#000" stroke-width="1"/>
<text x="104.55" y="534.9" font-size="8" fill="#111" text-anchor="middle" textLength="12.899999999999999" lengthAdjust="spacingAndGlyphs" stroke="#111" stroke-width="0.2">100</text>
<line x1="131.525" y1="523.1" x2="131.525" y2="525.8" stroke="#000" stroke-width="1"/>
<text x="131.525" y="534.9" font-size="8" fill="#111" text-anchor="middle" textLength="12.899999999999999" lengthAdjust="spacingAndGlyphs" stroke="#111" stroke-width="0.2">150</text>
<line x1="158.5" y1="523.1" x2="158.5" y2="525.8" stroke="#000" stroke-width="1"/>
<text x="158.5" y="534.9" font-size="8" fill="#111" text-anchor="middle" textLength="12.899999999999999" lengthAdjust="spacingAndGlyphs" stroke="#111" stroke-width="0.2">200</text>
<text x="104.6" y="547.4" font-size="8.2" fill="#111" text-anchor="middle" textLength="62" lengthAdjust="spacingAndGlyphs" stroke="#111" stroke-width="0.2">Mean % viable B cells</text>
<text x="38.300000000000004" y="468.2" font-size="8.2" fill="#111" text-anchor="middle" textLength="20.6" lengthAdjust="spacingAndGlyphs" transform="rotate(-90 38.300000000000004 468.2)" stroke="#111" stroke-width="0.2">Density</text>
<line x1="116.8" y1="427.2" x2="126" y2="427.2" stroke="#2a1a9f" stroke-width="1.7"/>
<text x="128.6" y="429.8" font-size="7.4" fill="#2a1a9f" textLength="23" lengthAdjust="spacingAndGlyphs" stroke="#2a1a9f" stroke-width="0.2">Treated</text>
<line x1="116.8" y1="440.6" x2="126" y2="440.6" stroke="#bccad2" stroke-width="1.5"/>
<text x="128.6" y="443.2" font-size="7.4" fill="#c5ced4" textLength="30" lengthAdjust="spacingAndGlyphs" stroke="#c5ced4" stroke-width="0.2">Untreated</text>
<rect x="224.8" y="414.30" width="113.30" height="2.2" fill="#cfd7de"/>
<rect x="224.8" y="417.60" width="72.30" height="2.2" fill="#cfd7de"/>
<rect x="224.8" y="420.90" width="72.30" height="2.2" fill="#cfd7de"/>
<rect x="224.8" y="424.20" width="63.00" height="2.2" fill="#cfd7de"/>
<rect x="224.8" y="427.50" width="52.90" height="2.2" fill="#cfd7de"/>
<rect x="224.8" y="430.80" width="52.00" height="2.2" fill="#cfd7de"/>
<rect x="224.8" y="434.10" width="50.40" height="2.2" fill="#cfd7de"/>
<rect x="224.8" y="437.40" width="48.30" height="2.2" fill="#cfd7de"/>
<rect x="224.8" y="440.70" width="47.10" height="2.2" fill="#cfd7de"/>
<rect x="224.8" y="444.00" width="41.40" height="2.2" fill="#4cfb34"/>
<rect x="224.8" y="447.30" width="40.40" height="2.2" fill="#4cfb34"/>
<rect x="224.8" y="450.60" width="38.50" height="2.2" fill="#4cfb34"/>
<rect x="224.8" y="453.90" width="37.90" height="2.2" fill="#4cfb34"/>
<rect x="224.8" y="457.20" width="37.10" height="2.2" fill="#4cfb34"/>
<rect x="224.8" y="460.50" width="35.00" height="2.2" fill="#4cfb34"/>
<rect x="224.8" y="463.80" width="34.20" height="2.2" fill="#4cfb34"/>
<rect x="224.8" y="467.10" width="34.20" height="2.2" fill="#4cfb34"/>
<rect x="224.8" y="470.40" width="34.20" height="2.2" fill="#4cfb34"/>
<rect x="224.8" y="473.70" width="32.10" height="2.2" fill="#4cfb34"/>
<rect x="224.8" y="477.00" width="29.80" height="2.2" fill="#4cfb34"/>
<rect x="224.8" y="480.30" width="27.20" height="2.2" fill="#4cfb34"/>
<rect x="224.8" y="483.60" width="23.20" height="2.2" fill="#4cfb34"/>
<rect x="224.8" y="486.90" width="22.20" height="2.2" fill="#4cfb34"/>
<rect x="224.8" y="490.20" width="21.80" height="2.2" fill="#4cfb34"/>
<rect x="224.8" y="493.50" width="21.20" height="2.2" fill="#4cfb34"/>
<rect x="224.8" y="496.80" width="20.10" height="2.2" fill="#4cfb34"/>
<rect x="224.8" y="500.10" width="18.10" height="2.2" fill="#4cfb34"/>
<rect x="224.8" y="503.40" width="15.10" height="2.2" fill="#4cfb34"/>
<rect x="224.8" y="506.70" width="14.20" height="2.2" fill="#4cfb34"/>
<rect x="224.8" y="510.00" width="12.80" height="2.2" fill="#4cfb34"/>
<rect x="224.8" y="513.30" width="12.40" height="2.2" fill="#4cfb34"/>
<rect x="224.8" y="516.60" width="12.00" height="2.2" fill="#4cfb34"/>
<rect x="224.8" y="519.90" width="9.00" height="2.2" fill="#4cfb34"/>
<line x1="268.4" y1="414" x2="268.4" y2="523" stroke="#222" stroke-width="1" stroke-dasharray="2,2.35"/>
<line x1="222.4" y1="413.7" x2="222.4" y2="523" stroke="#000" stroke-width="1.1"/>
<line x1="221.9" y1="522.9" x2="342.2" y2="522.9" stroke="#000" stroke-width="1.1"/>
<line x1="224.7" y1="522.9" x2="224.7" y2="525.6" stroke="#000" stroke-width="1"/>
<text x="224.7" y="534.8" font-size="8" fill="#111" text-anchor="middle" textLength="4.3" lengthAdjust="spacingAndGlyphs" stroke="#111" stroke-width="0.2">0</text>
<line x1="253.6" y1="522.9" x2="253.6" y2="525.6" stroke="#000" stroke-width="1"/>
<text x="253.6" y="534.8" font-size="8" fill="#111" text-anchor="middle" textLength="8.6" lengthAdjust="spacingAndGlyphs" stroke="#111" stroke-width="0.2">50</text>
<line x1="268.628" y1="522.9" x2="268.628" y2="525.6" stroke="#000" stroke-width="1"/>
<text x="268.628" y="534.8" font-size="8" fill="#111" text-anchor="middle" textLength="8.6" lengthAdjust="spacingAndGlyphs" stroke="#111" stroke-width="0.2">76</text>
<line x1="282.5" y1="522.9" x2="282.5" y2="525.6" stroke="#000" stroke-width="1"/>
<text x="282.5" y="534.8" font-size="8" fill="#111" text-anchor="middle" textLength="12.899999999999999" lengthAdjust="spacingAndGlyphs" stroke="#111" stroke-width="0.2">100</text>
<line x1="311.4" y1="522.9" x2="311.4" y2="525.6" stroke="#000" stroke-width="1"/>
<text x="311.4" y="534.8" font-size="8" fill="#111" text-anchor="middle" textLength="12.899999999999999" lengthAdjust="spacingAndGlyphs" stroke="#111" stroke-width="0.2">150</text>
<line x1="340.29999999999995" y1="522.9" x2="340.29999999999995" y2="525.6" stroke="#000" stroke-width="1"/>
<text x="340.29999999999995" y="534.8" font-size="8" fill="#111" text-anchor="middle" textLength="12.899999999999999" lengthAdjust="spacingAndGlyphs" stroke="#111" stroke-width="0.2">200</text>
<text x="282.2" y="547.3" font-size="8.2" fill="#111" text-anchor="middle" textLength="62.8" lengthAdjust="spacingAndGlyphs" stroke="#111" stroke-width="0.2">Mean % viable B cells</text>
<text x="213.39999999999998" y="468.5" font-size="8.2" fill="#111" text-anchor="middle" textLength="23.3" lengthAdjust="spacingAndGlyphs" transform="rotate(-90 213.39999999999998 468.5)" stroke="#111" stroke-width="0.2">Patients</text>
<text x="259.1" y="406.3" font-size="7.4" fill="#111" textLength="45.7" lengthAdjust="spacingAndGlyphs" stroke="#111" stroke-width="0.2">BsAb−treated</text>
<line x1="392.4" y1="413.7" x2="392.4" y2="523.1" stroke="#000" stroke-width="1.4"/>
<line x1="391.5" y1="523.1" x2="511.7" y2="523.1" stroke="#000" stroke-width="1.1"/>
<line x1="389.2" y1="509.3" x2="392" y2="509.3" stroke="#000" stroke-width="1"/>
<text x="386" y="511.90000000000003" font-size="8" fill="#111" text-anchor="end" textLength="4.3" lengthAdjust="spacingAndGlyphs" stroke="#111" stroke-width="0.2">0</text>
<line x1="389.2" y1="486.7" x2="392" y2="486.7" stroke="#000" stroke-width="1"/>
<text x="386" y="489.3" font-size="8" fill="#111" text-anchor="end" textLength="8.6" lengthAdjust="spacingAndGlyphs" stroke="#111" stroke-width="0.2">25</text>
<line x1="389.2" y1="464.1" x2="392" y2="464.1" stroke="#000" stroke-width="1"/>
<text x="386" y="466.70000000000005" font-size="8" fill="#111" text-anchor="end" textLength="8.6" lengthAdjust="spacingAndGlyphs" stroke="#111" stroke-width="0.2">50</text>
<line x1="389.2" y1="441.5" x2="392" y2="441.5" stroke="#000" stroke-width="1"/>
<text x="386" y="444.1" font-size="8" fill="#111" text-anchor="end" textLength="8.6" lengthAdjust="spacingAndGlyphs" stroke="#111" stroke-width="0.2">75</text>
<line x1="389.2" y1="418.9" x2="392" y2="418.9" stroke="#000" stroke-width="1"/>
<text x="386" y="421.5" font-size="8" fill="#111" text-anchor="end" textLength="12.899999999999999" lengthAdjust="spacingAndGlyphs" stroke="#111" stroke-width="0.2">100</text>
<text x="368.0" y="468.3" font-size="8.6" fill="#111" text-anchor="middle" textLength="66" lengthAdjust="spacingAndGlyphs" transform="rotate(-90 368.0 468.3)" stroke="#111" stroke-width="0.2">% of T cells at baseline</text>
<text x="401.5" y="426" font-size="7.6" fill="#111" textLength="31.6" lengthAdjust="spacingAndGlyphs" stroke="#111" stroke-width="0.2">Wilcoxon,</text>
<text x="435.2" y="426" font-size="7.6" fill="#111" textLength="4" lengthAdjust="spacingAndGlyphs" font-style="italic" stroke="#111" stroke-width="0.2">p</text>
<rect x="440.4" y="422.3" width="5.6" height="2.5" fill="#1a1a1a"/>
<text x="448.3" y="426" font-size="7.6" fill="#111" textLength="20.6" lengthAdjust="spacingAndGlyphs" stroke="#111" stroke-width="0.2">0.016</text>
<line x1="425" y1="476.9" x2="425" y2="503.5" stroke="#333" stroke-width="1"/>
<rect x="414.2" y="490.7" width="21.1" height="11.3" fill="#d3dbe2" stroke="#222" stroke-width="1"/>
<line x1="414.2" y1="500.7" x2="435.3" y2="500.7" stroke="#111" stroke-width="1"/>
<circle cx="425" cy="476.9" r="1.65" fill="rgba(200,215,220,0.6)" stroke="#3e5256" stroke-width="0.95"/>
<circle cx="424.3" cy="490.2" r="1.65" fill="rgba(200,215,220,0.6)" stroke="#3e5256" stroke-width="0.95"/>
<circle cx="428.3" cy="490" r="1.65" fill="rgba(200,215,220,0.6)" stroke="#3e5256" stroke-width="0.95"/>
<circle cx="425" cy="496.7" r="1.65" fill="rgba(200,215,220,0.6)" stroke="#3e5256" stroke-width="0.95"/>
<circle cx="423.4" cy="500" r="1.65" fill="rgba(200,215,220,0.6)" stroke="#3e5256" stroke-width="0.95"/>
<circle cx="425.4" cy="502.5" r="1.65" fill="rgba(200,215,220,0.6)" stroke="#3e5256" stroke-width="0.95"/>
<circle cx="428.3" cy="501.8" r="1.65" fill="rgba(200,215,220,0.6)" stroke="#3e5256" stroke-width="0.95"/>
<circle cx="424.7" cy="505.7" r="1.65" fill="rgba(200,215,220,0.6)" stroke="#3e5256" stroke-width="0.95"/>
<circle cx="427.5" cy="505.4" r="1.65" fill="rgba(200,215,220,0.6)" stroke="#3e5256" stroke-width="0.95"/>
<line x1="479.2" y1="447.9" x2="479.2" y2="505" stroke="#333" stroke-width="1"/>
<rect x="468.5" y="476.9" width="21.4" height="18" fill="#6fe84f" stroke="#111" stroke-width="1"/>
<line x1="468.5" y1="488.3" x2="489.9" y2="488.3" stroke="#111" stroke-width="1"/>
<circle cx="479.2" cy="440.8" r="1.65" fill="rgba(200,215,220,0.6)" stroke="#3e5256" stroke-width="0.95"/>
<circle cx="479.2" cy="447.9" r="1.65" fill="rgba(200,215,220,0.6)" stroke="#3e5256" stroke-width="0.95"/>
<circle cx="478.5" cy="462.5" r="1.65" fill="rgba(200,215,220,0.6)" stroke="#3e5256" stroke-width="0.95"/>
<circle cx="481" cy="465.4" r="1.65" fill="rgba(200,215,220,0.6)" stroke="#3e5256" stroke-width="0.95"/>
<circle cx="478.5" cy="468.1" r="1.65" fill="rgba(200,215,220,0.6)" stroke="#3e5256" stroke-width="0.95"/>
<circle cx="479.3" cy="475.1" r="1.65" fill="rgba(200,215,220,0.6)" stroke="#3e5256" stroke-width="0.95"/>
<circle cx="481.1" cy="476.5" r="1.65" fill="rgba(200,215,220,0.6)" stroke="#3e5256" stroke-width="0.95"/>
<circle cx="479" cy="478.3" r="1.65" fill="rgba(200,215,220,0.6)" stroke="#3e5256" stroke-width="0.95"/>
<circle cx="474.6" cy="487.3" r="1.65" fill="rgba(200,215,220,0.6)" stroke="#3e5256" stroke-width="0.95"/>
<circle cx="477.2" cy="487.3" r="1.65" fill="rgba(200,215,220,0.6)" stroke="#3e5256" stroke-width="0.95"/>
<circle cx="479.1" cy="485.5" r="1.65" fill="rgba(200,215,220,0.6)" stroke="#3e5256" stroke-width="0.95"/>
<circle cx="481.6" cy="485.3" r="1.65" fill="rgba(200,215,220,0.6)" stroke="#3e5256" stroke-width="0.95"/>
<circle cx="479.3" cy="489.5" r="1.65" fill="rgba(200,215,220,0.6)" stroke="#3e5256" stroke-width="0.95"/>
<circle cx="481.6" cy="489.3" r="1.65" fill="rgba(200,215,220,0.6)" stroke="#3e5256" stroke-width="0.95"/>
<circle cx="479.3" cy="492.9" r="1.65" fill="rgba(200,215,220,0.6)" stroke="#3e5256" stroke-width="0.95"/>
<circle cx="481.5" cy="492" r="1.65" fill="rgba(200,215,220,0.6)" stroke="#3e5256" stroke-width="0.95"/>
<circle cx="476.8" cy="494.9" r="1.65" fill="rgba(200,215,220,0.6)" stroke="#3e5256" stroke-width="0.95"/>
<circle cx="477.5" cy="497.4" r="1.65" fill="rgba(200,215,220,0.6)" stroke="#3e5256" stroke-width="0.95"/>
<circle cx="479.3" cy="499.2" r="1.65" fill="rgba(200,215,220,0.6)" stroke="#3e5256" stroke-width="0.95"/>
<circle cx="482.2" cy="498.9" r="1.65" fill="rgba(200,215,220,0.6)" stroke="#3e5256" stroke-width="0.95"/>
<circle cx="479.3" cy="505.4" r="1.65" fill="rgba(200,215,220,0.6)" stroke="#3e5256" stroke-width="0.95"/>
<circle cx="482.2" cy="505.4" r="1.65" fill="rgba(200,215,220,0.6)" stroke="#3e5256" stroke-width="0.95"/>
<circle cx="481.1" cy="496.7" r="1.65" fill="rgba(200,215,220,0.6)" stroke="#3e5256" stroke-width="0.95"/>
<line x1="425" y1="523.1" x2="425" y2="525.8" stroke="#000" stroke-width="1"/>
<line x1="479.2" y1="523.1" x2="479.2" y2="525.8" stroke="#000" stroke-width="1"/>
<text x="425" y="534.8" font-size="7.6" fill="#111" text-anchor="middle" textLength="17.5" lengthAdjust="spacingAndGlyphs" stroke="#111" stroke-width="0.2">Non−</text>
<text x="425" y="544.1" font-size="7.6" fill="#111" text-anchor="middle" textLength="33" lengthAdjust="spacingAndGlyphs" stroke="#111" stroke-width="0.2">responder</text>
<text x="479" y="535" font-size="7.4" fill="#111" text-anchor="middle" textLength="36.3" lengthAdjust="spacingAndGlyphs" stroke="#111" stroke-width="0.2">Responder</text>
<rect x="0.5" y="0.5" width="519" height="553" fill="none" stroke="#000" stroke-width="1.2"/>
</svg></body></html>
